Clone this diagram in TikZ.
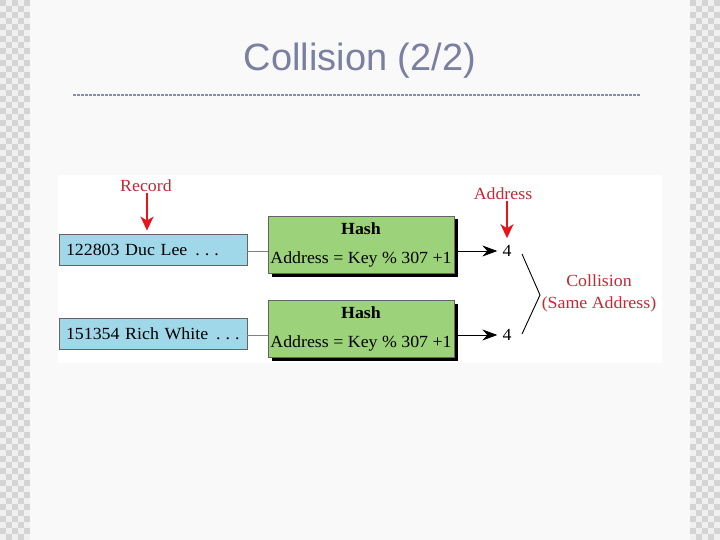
\documentclass[tikz,border=0pt]{standalone}
\usepackage{fontspec}
\setmainfont{Liberation Serif}
\newfontfamily\titlefont{Liberation Sans}
\newfontfamily\diagfont[FakeStretch=1.05]{Liberation Serif}
\usetikzlibrary{arrows.meta,shadows}
\definecolor{pagebg}{RGB}{249,249,249}
\definecolor{checkdark}{RGB}{212,212,212}
\definecolor{checklight}{RGB}{240,240,240}
\definecolor{titlec}{RGB}{122,128,160}
\definecolor{dotc}{RGB}{136,142,168}
\definecolor{recblue}{RGB}{160,216,234}
\definecolor{hashgreen}{RGB}{155,210,122}
\definecolor{boxline}{RGB}{100,100,100}
\definecolor{labred}{RGB}{196,40,52}
\definecolor{arrred}{RGB}{232,20,30}
\begin{document}
\begin{tikzpicture}[x=1pt,y=-1pt,
  dtext/.style={font=\diagfont\fontsize{17}{29}\selectfont},
  recbox/.style={dtext, draw=boxline, line width=0.8pt, fill=recblue,
    minimum height=31pt, text width=174pt, inner xsep=7pt, align=left},
  hashbox/.style={dtext, draw=boxline, line width=0.8pt, fill=hashgreen,
    minimum width=186pt, minimum height=57pt, inner xsep=1pt, align=center,
    drop shadow={shadow xshift=3.5pt, shadow yshift=-3.5pt, fill=black, opacity=1}},
  redlab/.style={dtext, text=labred, inner sep=1pt},
  addrnum/.style={dtext, inner xsep=5pt, inner ysep=2pt},
  redarrow/.style={arrred, line width=2pt, -{Stealth[length=14pt,width=13pt,inset=4pt]}},
  blkarrow/.style={black, line width=0.8pt, -{Stealth[length=15pt,width=11pt,inset=5pt]}},
  joinline/.style={draw=gray, line width=1pt}]
\useasboundingbox (0,0) rectangle (720,540);
\fill[pagebg] (0,0) rectangle (720,540);
% checkered side strips
\fill[checklight] (0,0) rectangle (30,540);
\fill[checklight] (690,0) rectangle (720,540);
\foreach \i in {0,...,89}{
  \foreach \j in {0,...,4}{
    \pgfmathtruncatemacro\p{mod(\i+\j,2)}
    \ifnum\p=0
      \fill[checkdark] (\j*6,\i*6) rectangle ++(6,6);
      \fill[checkdark] (690+\j*6,\i*6) rectangle ++(6,6);
    \fi
  }
}
% title
\node[font=\titlefont\fontsize{38}{40}\selectfont, text=titlec] (title) at (360,61) {Collision (2/2)};
\draw[dotc, line width=2pt, dash pattern=on 3pt off 1pt] (73,95) -- (640,95);
% diagram area
\fill[white] (58,175) rectangle (662,363);
% records
\node[recbox] (rec1) at (153,249.5) {122803 Duc Lee\hspace{8pt}.\hspace{5pt}.\hspace{5pt}.};
\node[recbox] (rec2) at (153,334) {151354 Rich White\hspace{8pt}.\hspace{5pt}.\hspace{5pt}.};
% hash boxes
\node[hashbox] (hash1) at (361,244.5) {\textbf{Hash}\\Address = Key \% 307 +1};
\node[hashbox] (hash2) at (361,328.5) {\textbf{Hash}\\Address = Key \% 307 +1};
% connectors record -> hash
\draw[joinline] ([yshift=-1.5pt]rec1.east) -- ([yshift=-1.5pt]rec1.east -| hash1.west);
\draw[joinline] ([yshift=-1pt]rec2.east) -- ([yshift=-1pt]rec2.east -| hash2.west);
% addresses
\node[addrnum] (n1) at (507,251) {4};
\node[addrnum] (n2) at (507,335) {4};
\draw[blkarrow] ([xshift=3.5pt]hash1.east |- n1) -- (n1.west);
\draw[blkarrow] ([xshift=3.5pt]hash2.east |- n2) -- (n2.west);
% labels
\node[redlab] (reclab) at (146,186) {Record};
\draw[redarrow] ([xshift=1pt]reclab.south) -- ([xshift=1pt,yshift=3pt]reclab.south |- rec1.north);
\node[redlab] (addrlab) at (503,194) {Address};
\draw[redarrow] (addrlab.south -| n1) -- ([yshift=5pt]n1.north);
% collision bracket
\coordinate (b1) at (522,254);
\coordinate (bm) at (540,295);
\coordinate (b2) at (522,334);
\draw[black, line width=0.9pt] (b1) -- (bm) -- (b2);
\node[redlab, align=center, font=\diagfont\fontsize{17}{22}\selectfont] (coll) at (599,293) {Collision\\(Same Address)};
\end{tikzpicture}
\end{document}
